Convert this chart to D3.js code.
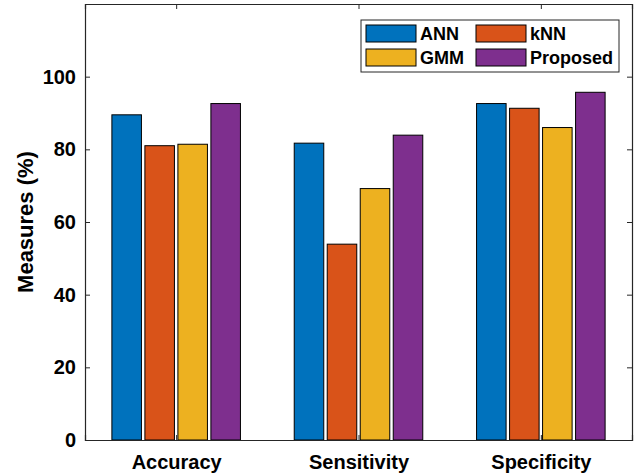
<!DOCTYPE html>
<html>
<head>
<meta charset="utf-8">
<script src="https://cdn.jsdelivr.net/npm/d3@7"></script>
<style>
  html, body { margin: 0; padding: 0; background: #fff; }
  svg { display: block; }
  text { font-family: "Liberation Sans", Arial, sans-serif; font-weight: bold; fill: #000; }
</style>
</head>
<body>
<svg id="chart" width="636" height="475"></svg>
<script>
// Performance measures for each method
const categories = ["Accuracy", "Sensitivity", "Specificity"];
const methods = ["ANN", "kNN", "GMM", "Proposed"];
const annValues = [89.5, 81.7, 92.6];
const knnValues = [81.0, 53.9, 91.3];
const gmmValues = [81.4, 69.2, 86.0];
const proposedValues = [92.6, 83.9, 95.7];
const yTicks = [0, 20, 40, 60, 80, 100];
const colors = ["#0072BD", "#D95319", "#EDB120", "#7E2F8E"];

const series = [annValues, knnValues, gmmValues, proposedValues];

const svg = d3.select("#chart");
const margin = { left: 85, right: 4, top: 4, bottom: 35 };
const W = 636, H = 475;
const x0 = margin.left, x1 = W - margin.right;
const y0 = H - margin.bottom, y1 = margin.top;

// Continuous category axis (1..3) with half-unit padding on each side
const x = d3.scaleLinear().domain([0.5, categories.length + 0.5]).range([x0, x1]);
const y = d3.scaleLinear().domain([0, 120]).range([y0, y1]);

const step = 0.181;      // spacing between bars within a group (category units)
const barW = 0.162;      // bar width (category units)
const axisColor = "#262626";

// Bars
series.forEach((vals, si) => {
  svg.append("g")
    .selectAll("rect")
    .data(vals)
    .join("rect")
    .attr("x", (d, i) => x(i + 1 + (si - 1.5) * step - barW / 2))
    .attr("width", x(barW) - x(0))
    .attr("y", d => y(d))
    .attr("height", d => y(0) - y(d))
    .attr("fill", colors[si])
    .attr("stroke", "#000")
    .attr("stroke-width", 1);
});

// Axes (ticks inside, box on)
const tickLen = 5;
const yAxisL = d3.axisLeft(y).tickValues(yTicks).tickSize(-tickLen).tickPadding(9);
const yAxisR = d3.axisRight(y).tickValues(yTicks).tickSize(-tickLen).tickFormat("");
const xAxisB = d3.axisBottom(x).tickValues([1, 2, 3]).tickSize(-tickLen).tickPadding(15)
  .tickFormat(d => categories[d - 1]);
const xAxisT = d3.axisTop(x).tickValues([1, 2, 3]).tickSize(-tickLen).tickFormat("");

function style(g) {
  g.select(".domain").attr("stroke", axisColor).attr("stroke-width", 1.2);
  g.selectAll(".tick line").attr("stroke", axisColor);
  g.selectAll(".tick text").attr("fill", "#000").style("font-size", "20px")
    .style("font-family", "'Liberation Sans', Arial, sans-serif").style("font-weight", "bold");
}

svg.append("g").attr("transform", `translate(${x0},0)`).call(yAxisL).call(style);
svg.append("g").attr("transform", `translate(${x1},0)`).call(yAxisR).call(style);
svg.append("g").attr("transform", `translate(0,${y0})`).call(xAxisB).call(style);
svg.append("g").attr("transform", `translate(0,${y1})`).call(xAxisT).call(style);

// Y axis title
svg.append("text")
  .attr("transform", `translate(33,${(y0 + y1) / 2}) rotate(-90)`)
  .attr("text-anchor", "middle")
  .style("font-size", "22px")
  .text("Measures (%)");

// Legend (two columns)
const legend = svg.append("g");
legend.append("rect")
  .attr("x", 361).attr("y", 20).attr("width", 258).attr("height", 52)
  .attr("fill", "#fff").attr("stroke", axisColor).attr("stroke-width", 1);
methods.forEach((m, i) => {
  const col = i % 2, row = Math.floor(i / 2);
  const lx = 366 + col * 110, ly = 25 + row * 24;
  legend.append("rect")
    .attr("x", lx).attr("y", ly).attr("width", 50).attr("height", 17)
    .attr("fill", colors[i]).attr("stroke", "#000").attr("stroke-width", 1);
  legend.append("text")
    .attr("x", lx + 54).attr("y", ly + 15)
    .style("font-size", "18px")
    .text(m);
});
</script>
</body>
</html>
